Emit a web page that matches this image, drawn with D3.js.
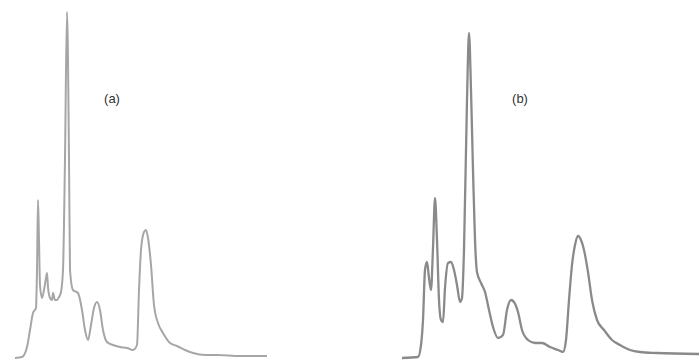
<!DOCTYPE html>
<html>
<head>
<meta charset="utf-8">
<script src="https://d3js.org/d3.v7.min.js"></script>
<style>
  body { margin: 0; background: #fff; }
  svg { display: block; }
</style>
</head>
<body>
<svg id="chart" width="699" height="363"></svg>
<script>
// retention (arbitrary units) and detector response
const timeA = [0,7,12,15,18,21,22,23,24,25,27,29,31,32,33,35,37,38,40,42,44,46,48,50,52,54,55,58,63,67,70,73,76,79,82,85,88,92,98,105,112,118,122,124,126,129,131,133,136,139,143,148,155,162,170,178,190,202,225,252];
const signalA = [0,1,11,28,45,50,88,158,118,73,60,68,80,85,71,60,58,65,58,58,61,66,88,200,346,200,88,68,65,48,28,18,33,50,56,48,28,16,13,11,10,8,13,68,108,126,128,120,93,53,35,25,15,12,8,5,3,3,2,2];

const timeB = [0,16,19,21,23,25,27,29,31,33,35,37,39,41,43,46,49,52,55,58,60,62,65,67,69,71,73,75,79,83,87,91,96,101,105,109,112,116,120,126,133,140,148,156,161,164,167,170,173,176,179,182,186,190,195,202,210,218,228,238,255,297];
const signalB = [0,1,13,38,88,96,80,68,110,160,118,58,38,36,70,95,96,88,73,56,60,108,258,325,268,188,118,86,75,66,48,31,20,23,48,58,56,46,28,18,15,15,11,8,6,18,58,93,113,122,118,108,86,58,38,28,18,13,8,6,5,4];

const labels = ["(a)", "(b)"];

const svg = d3.select("#chart");

const y = d3.scaleLinear().domain([0, 346]).range([358, 12]);

const panels = [
  { t: timeA, s: signalA, x: d3.scaleLinear().domain([0, 252]).range([15, 267]),
    color: "#a6a6a6", width: 2, label: labels[0], lx: 112 },
  { t: timeB, s: signalB, x: d3.scaleLinear().domain([0, 297]).range([402, 699]),
    color: "#8a8a8a", width: 2.3, label: labels[1], lx: 520 }
];

panels.forEach(p => {
  const pts = p.t.map((d, i) => [d, p.s[i]]);
  const line = d3.line()
    .x(d => p.x(d[0]))
    .y(d => y(d[1]))
    .curve(d3.curveMonotoneX);

  svg.append("path")
    .datum(pts)
    .attr("d", line)
    .attr("fill", "none")
    .attr("stroke", p.color)
    .attr("stroke-width", p.width)
    .attr("stroke-linejoin", "round");

  svg.append("text")
    .attr("x", p.lx)
    .attr("y", 103)
    .attr("text-anchor", "middle")
    .style("font-family", "'Liberation Sans', Arial, sans-serif")
    .style("font-size", "13px")
    .style("fill", "#333")
    .text(p.label);
});
</script>
</body>
</html>
